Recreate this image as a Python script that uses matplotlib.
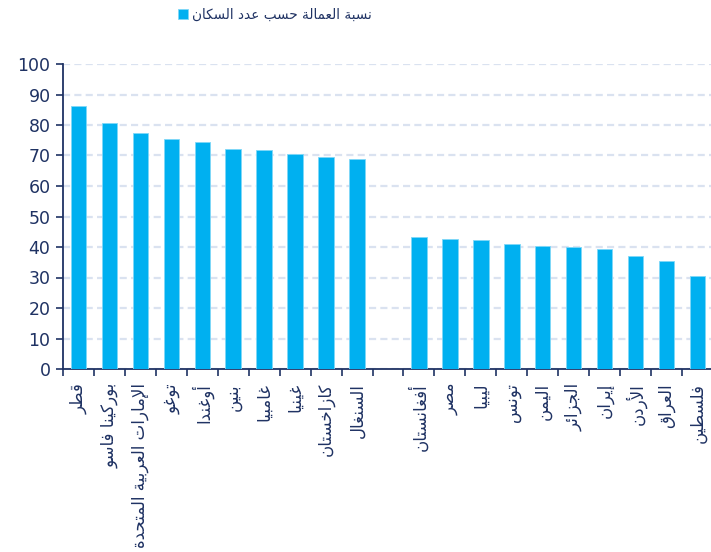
import matplotlib
matplotlib.use("Agg")
import matplotlib.pyplot as plt
from matplotlib.ticker import FixedLocator, MultipleLocator

# data
countries_high = ["قطر", "بوركينا فاسو", "الإمارات العربية المتحدة", "توغو", "أوغندا",
                  "بنين", "غامبيا", "غينيا", "كازاخستان", "السنغال"]
values_high = [86.2, 80.5, 77.4, 75.3, 74.4, 72.0, 71.8, 70.5, 69.6, 68.9]
countries_low = ["أفغانستان", "مصر", "ليبيا", "تونس", "اليمن",
                 "الجزائر", "إيران", "الأردن", "العراق", "فلسطين"]
values_low = [43.3, 42.7, 42.4, 41.1, 40.4, 39.9, 39.4, 37.0, 35.3, 30.5]
legend_label = "نسبة العمالة حسب عدد السكان"

BLUE = "#00B0F0"
NAVY = "#1F3263"

# minimal arabic shaping (matplotlib has no bidi / joining support)
_forms = {
    "ء": ("\uFE80", None, None, None),
    "آ": ("\uFE81", "\uFE82", None, None),
    "أ": ("\uFE83", "\uFE84", None, None),
    "ؤ": ("\uFE85", "\uFE86", None, None),
    "إ": ("\uFE87", "\uFE88", None, None),
    "ئ": ("\uFE89", "\uFE8A", "\uFE8B", "\uFE8C"),
    "ا": ("\uFE8D", "\uFE8E", None, None),
    "ب": ("\uFE8F", "\uFE90", "\uFE91", "\uFE92"),
    "ة": ("\uFE93", "\uFE94", None, None),
    "ت": ("\uFE95", "\uFE96", "\uFE97", "\uFE98"),
    "ث": ("\uFE99", "\uFE9A", "\uFE9B", "\uFE9C"),
    "ج": ("\uFE9D", "\uFE9E", "\uFE9F", "\uFEA0"),
    "ح": ("\uFEA1", "\uFEA2", "\uFEA3", "\uFEA4"),
    "خ": ("\uFEA5", "\uFEA6", "\uFEA7", "\uFEA8"),
    "د": ("\uFEA9", "\uFEAA", None, None),
    "ذ": ("\uFEAB", "\uFEAC", None, None),
    "ر": ("\uFEAD", "\uFEAE", None, None),
    "ز": ("\uFEAF", "\uFEB0", None, None),
    "س": ("\uFEB1", "\uFEB2", "\uFEB3", "\uFEB4"),
    "ش": ("\uFEB5", "\uFEB6", "\uFEB7", "\uFEB8"),
    "ص": ("\uFEB9", "\uFEBA", "\uFEBB", "\uFEBC"),
    "ض": ("\uFEBD", "\uFEBE", "\uFEBF", "\uFEC0"),
    "ط": ("\uFEC1", "\uFEC2", "\uFEC3", "\uFEC4"),
    "ظ": ("\uFEC5", "\uFEC6", "\uFEC7", "\uFEC8"),
    "ع": ("\uFEC9", "\uFECA", "\uFECB", "\uFECC"),
    "غ": ("\uFECD", "\uFECE", "\uFECF", "\uFED0"),
    "ف": ("\uFED1", "\uFED2", "\uFED3", "\uFED4"),
    "ق": ("\uFED5", "\uFED6", "\uFED7", "\uFED8"),
    "ك": ("\uFED9", "\uFEDA", "\uFEDB", "\uFEDC"),
    "ل": ("\uFEDD", "\uFEDE", "\uFEDF", "\uFEE0"),
    "م": ("\uFEE1", "\uFEE2", "\uFEE3", "\uFEE4"),
    "ن": ("\uFEE5", "\uFEE6", "\uFEE7", "\uFEE8"),
    "ه": ("\uFEE9", "\uFEEA", "\uFEEB", "\uFEEC"),
    "و": ("\uFEED", "\uFEEE", None, None),
    "ى": ("\uFEEF", "\uFEF0", None, None),
    "ي": ("\uFEF1", "\uFEF2", "\uFEF3", "\uFEF4"),
}
_lam_alef = {"آ": ("\uFEF5", "\uFEF6"), "أ": ("\uFEF7", "\uFEF8"),
             "إ": ("\uFEF9", "\uFEFA"), "ا": ("\uFEFB", "\uFEFC")}


def _joins_forward(ch):
    return ch in _forms and _forms[ch][2] is not None


def _joins_back(ch):
    return ch in _forms and _forms[ch][1] is not None


def ar(text):
    out = []
    i = 0
    while i < len(text):
        ch = text[i]
        prev = text[i - 1] if i > 0 else ""
        nxt = text[i + 1] if i + 1 < len(text) else ""
        if ch not in _forms:
            out.append(ch)
            i += 1
            continue
        linked_prev = _joins_forward(prev)
        if ch == "ل" and nxt in _lam_alef:
            out.append(_lam_alef[nxt][1 if linked_prev else 0])
            i += 2
            continue
        linked_next = _joins_forward(ch) and _joins_back(nxt)
        iso, fin, ini, med = _forms[ch]
        if linked_prev and linked_next:
            out.append(med)
        elif linked_prev:
            out.append(fin)
        elif linked_next:
            out.append(ini)
        else:
            out.append(iso)
        i += 1
    return "".join(out)[::-1]


plt.rcParams["font.family"] = ["DejaVu Sans"]

labels = countries_high + [""] + countries_low
values = values_high + [0] + values_low
positions = list(range(len(labels)))
bar_x = [p for p, lab in zip(positions, labels) if lab]
bar_h = [v for v, lab in zip(values, labels) if lab]

fig = plt.figure(figsize=(7.11, 5.52), dpi=100)
ax = fig.add_axes([63 / 711, 1 - 369 / 552, 650 / 711, 305 / 552])

ax.bar(bar_x, bar_h, width=0.5, color=BLUE, edgecolor="#7FD8F8", linewidth=0.6,
       label=ar(legend_label), zorder=3)

ax.set_xlim(-0.5, len(labels) - 0.5)
ax.set_ylim(0, 100)
ax.yaxis.set_major_locator(MultipleLocator(10))
ax.grid(axis="y", color="#DAE2F0", linestyle=(0, (3.2, 1.9)), linewidth=1.6, zorder=0)
ax.set_axisbelow(True)

ax.xaxis.set_major_locator(FixedLocator(positions))
ax.set_xticklabels([ar(l) for l in labels], rotation=90, va="top", ha="center",
                   fontsize=12, color=NAVY)
ax.xaxis.set_minor_locator(FixedLocator([p - 0.5 for p in positions] + [len(labels) - 0.5]))
ax.tick_params(axis="x", which="major", length=0, pad=10)
ax.tick_params(axis="x", which="minor", length=5, width=1.2, color=NAVY, direction="out")
ax.tick_params(axis="y", length=5, width=1.2, color=NAVY, labelsize=12.5,
               labelcolor=NAVY, pad=4)

for side in ("top", "right"):
    ax.spines[side].set_visible(False)
for side in ("left", "bottom"):
    ax.spines[side].set_color(NAVY)
    ax.spines[side].set_linewidth(1.3)

fig.legend(loc="center", bbox_to_anchor=(275 / 711, 1 - 15 / 552), frameon=False,
           fontsize=9.8, labelcolor=NAVY, handlelength=0.7, handleheight=0.7,
           handletextpad=0.3)

fig.savefig("out.png", dpi=100)
